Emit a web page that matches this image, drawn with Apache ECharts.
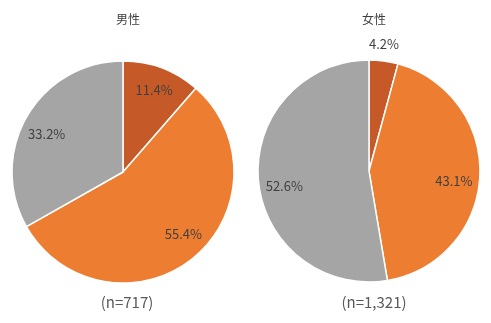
<!DOCTYPE html>
<html><head><meta charset="utf-8">
<script src="https://cdn.jsdelivr.net/npm/echarts@6/dist/echarts.min.js"></script>
<style>html,body{margin:0;padding:0;background:#fff}#c{width:491px;height:323px}</style>
</head><body><div id="c"></div>
<script>
const categories = ['A', 'B', 'C'];
const maleValues = [11.4, 55.4, 33.2];
const femaleValues = [4.2, 43.1, 52.6];
const panelTitles = ['男性', '女性'];
const sampleLabels = ['(n=717)', '(n=1,321)'];
const colors = ['#C55A28', '#ED7D31', '#A5A5A5'];

const chart = echarts.init(document.getElementById('c'), null, {renderer: 'canvas'});
const font = '"Noto Sans CJK JP", "Noto Sans", sans-serif';
const toData = vals => vals.map((v, i) => ({name: categories[i], value: v}));
const centers = [[123, 172], [369, 171]];
const R = 111;
// label nudges (style only)
const maleNudge = [[1, -1], [6, -5], [-2, 5]];
const femaleNudge = [[-2, 1], [-1, 6], [1, 8]];

function mainPie(vals, center) {
  return {
    type: 'pie', center: center, radius: [0, R], startAngle: 90, clockwise: true,
    silent: true, animation: false,
    itemStyle: {borderColor: '#fff', borderWidth: 1.5},
    label: {show: false}, labelLine: {show: false},
    color: colors,
    data: toData(vals)
  };
}
function labelPie(vals, center, r, hideIdx, nudge) {
  return {
    type: 'pie', center: center, radius: r, startAngle: 90, clockwise: true,
    silent: true, animation: false,
    itemStyle: {color: 'rgba(0,0,0,0)', borderWidth: 0},
    labelLine: {show: false},
    label: {show: true, position: 'inside', formatter: p => p.value.toFixed(1) + '%',
      color: '#404040', fontSize: 13, fontFamily: font},
    data: toData(vals).map((d, i) => Object.assign(d, {label: hideIdx.includes(i) ? {show: false} : {offset: nudge[i]}}))
  };
}
const tStyle = (size, color) => ({fontSize: size, fontWeight: 'normal', color: color, fontFamily: font});

chart.setOption({
  backgroundColor: '#fff',
  title: [
    {text: panelTitles[0], left: 123, top: 8, textAlign: 'center', textStyle: tStyle(12, '#404040')},
    {text: panelTitles[1], left: 369, top: 8, textAlign: 'center', textStyle: tStyle(12, '#404040')},
    {text: sampleLabels[0], left: 122, top: 290, textAlign: 'center', textStyle: tStyle(15, '#595959')},
    {text: sampleLabels[1], left: 369, top: 290, textAlign: 'center', textStyle: tStyle(15, '#595959')}
  ],
  series: [
    mainPie(maleValues, centers[0]),
    mainPie(femaleValues, centers[1]),
    labelPie(maleValues, centers[0], [55, R], [], maleNudge),
    labelPie(femaleValues, centers[1], [55, R], [0], femaleNudge),
    labelPie(femaleValues, centers[1], [116, 136], [1, 2], femaleNudge)
  ]
});
</script></body></html>
